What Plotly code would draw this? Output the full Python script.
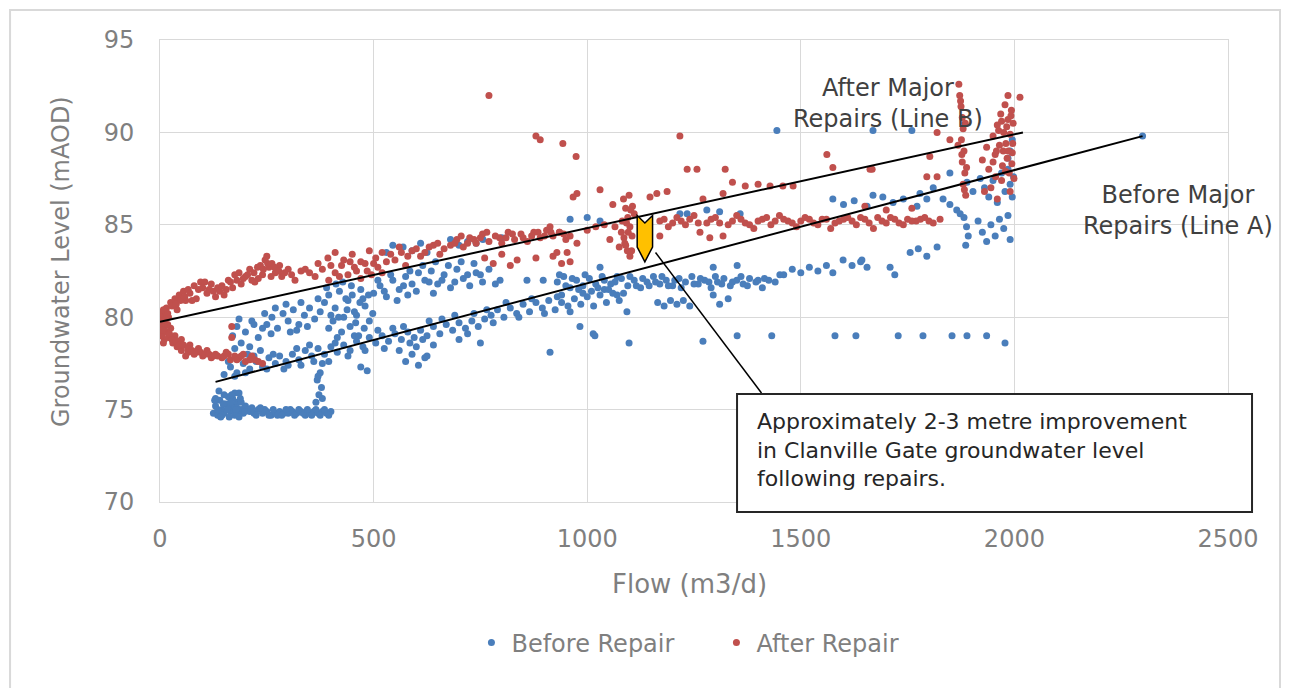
import plotly.graph_objects as go

# --- Before Repair (blue) ---
before_base_x = [125, 130, 135, 140, 145, 150, 155, 160, 165, 170, 175, 180, 185, 190, 195, 200,
                 130, 140, 150, 160, 170, 180, 190, 135, 150, 165, 180, 145, 175,
                 210, 220, 230, 240, 250, 260, 270, 280, 290, 300, 310, 320, 330, 340, 350, 360,
                 370, 380, 390, 400, 215, 245, 275, 305, 335, 365, 395,
                 365, 372, 378, 368, 375, 380, 370,
                 205, 225, 235, 255, 265, 285, 295, 315, 325, 345, 355, 375, 385,
                 128, 138, 148, 158, 168, 178, 188, 198, 142, 162, 185]
before_base_y = [74.8, 75.2, 74.7, 75.5, 75.0, 74.8, 75.3, 75.7, 74.9, 75.2, 74.7, 75.4, 75.9, 75.0, 74.8, 75.2,
                 75.6, 74.9, 75.8, 75.1, 75.6, 74.8, 75.4, 75.0, 75.3, 75.4, 75.1, 74.7, 75.9,
                 74.9, 74.8, 75.0, 74.8, 74.9, 74.7, 74.8, 74.9, 74.8, 74.8, 74.9, 74.8, 74.9, 74.7, 74.8, 74.9,
                 74.8, 74.9, 74.8, 74.9, 75.1, 75.0, 74.7, 75.0, 74.8, 75.0, 74.7,
                 75.4, 75.8, 76.2, 76.6, 77.0, 75.6, 76.8,
                 75.0, 74.7, 75.1, 74.7, 75.0, 74.7, 75.0, 74.7, 75.0, 75.0, 74.7, 74.7, 75.0,
                 75.5, 76.0, 75.3, 75.0, 75.8, 75.0, 75.6, 74.9, 74.6, 74.6, 74.6]

before_lower_x = [150, 165, 180, 195, 210, 225, 240, 255, 270,
                  280, 295, 310, 325, 340, 355, 370, 385, 400, 415, 290, 330, 360, 395,
                  430, 445, 460, 475, 490, 505, 520, 535, 550, 565, 580, 595, 470, 485, 600, 620, 560,
                  610, 625, 640, 655, 670, 685, 700, 715, 730, 745, 760, 640, 700, 750,
                  575, 590, 605, 625,
                  775, 790, 805, 820, 835, 850, 865, 880, 895, 910, 925, 940, 955, 970, 985,
                  1000, 1015, 1030, 1045, 1060, 1075,
                  1165, 1180, 1195, 1210, 1225, 1240, 1295, 1330, 1310,
                  913, 983, 1014, 1093,
                  160, 175, 200, 220, 250, 265, 300, 320, 350, 380, 410, 440, 455, 480, 510, 525,
                  545, 570, 585, 615, 630, 660, 690, 720, 735, 765, 780, 810, 840, 870, 900, 930,
                  960, 990, 1040, 1070]
before_lower_y = [76.9, 77.3, 77.0, 77.5, 77.2, 77.6, 77.3, 77.8, 77.5,
                  77.9, 77.6, 78.0, 77.7, 78.2, 77.9, 78.3, 78.0, 78.4, 78.1, 77.2, 77.4, 77.6, 77.6,
                  78.5, 78.2, 78.7, 78.4, 78.9, 78.6, 79.0, 78.7, 79.1, 78.8, 79.2, 78.9, 77.3, 77.1, 78.4, 77.8, 78.2,
                  79.3, 79.0, 79.5, 79.1, 79.6, 79.3, 79.7, 79.4, 79.8, 79.5, 79.9, 78.5, 78.8, 78.6,
                  77.6, 78.0, 77.4, 77.9,
                  80.1, 80.4, 80.0, 80.5, 80.2, 80.7, 80.3, 80.8, 80.5, 80.9, 80.4, 80.8, 80.6, 81.0, 80.7,
                  81.1, 80.6, 81.2, 80.8, 81.3, 80.9,
                  80.8, 80.6, 80.9, 80.7, 80.9, 80.6, 81.2, 81.0, 80.7,
                  78.1, 79.5, 79.1, 80.3,
                  77.6, 76.8, 77.0, 77.9, 77.2, 78.0, 77.4, 78.3, 78.5, 77.5, 78.6, 77.9, 79.0, 78.2, 79.3, 78.3,
                  79.4, 79.5, 78.6, 78.8, 79.8, 79.9, 80.1, 79.1, 80.2, 80.4, 79.7, 80.8, 80.0, 81.0, 80.2, 81.1,
                  80.3, 81.3, 81.5, 81.2]

before_upper_x = [170, 180, 190, 200, 210, 220, 230, 240, 175, 205, 235,
                  250, 262, 275, 288, 300, 312, 325, 338, 350, 362, 375, 260, 320,
                  385, 395, 405, 410, 420, 425, 430, 440, 445, 450, 455, 465, 470, 480, 490,
                  395, 415, 435, 460, 475,
                  500, 515, 530, 545, 560, 575, 590, 605,
                  620, 635, 650, 665, 680, 695, 710, 725, 740, 755, 580, 640,
                  569, 590, 610, 625, 680, 700, 720, 740, 756, 800, 530, 545,
                  185, 215, 245, 270, 295, 305, 330, 345, 370, 390, 400, 412, 418, 428, 438, 448,
                  458, 468, 478, 488, 498, 510, 525, 540, 555, 570, 585, 600, 615, 630, 645, 660,
                  675, 690, 705, 720, 735, 750, 770, 785]
before_upper_y = [79.0, 79.5, 78.6, 79.2, 78.4, 79.6, 78.9, 79.4, 78.3, 78.0, 78.2,
                  79.6, 80.0, 79.4, 80.2, 79.8, 80.4, 79.6, 80.1, 80.5, 79.9, 80.3, 79.1, 79.3,
                  80.8, 81.2, 79.8, 80.5, 81.4, 79.2, 80.0, 80.9, 79.5, 81.2, 80.3, 79.0, 81.5, 80.6, 79.8,
                  79.4, 78.9, 81.0, 80.1, 81.0,
                  81.3, 81.7, 81.1, 82.0, 81.5, 82.2, 81.8, 82.4,
                  82.0, 82.5, 81.8, 82.3, 81.6, 82.6, 82.1, 81.7, 82.4, 81.9, 81.2, 81.3,
                  83.8, 83.6, 84.0, 83.5, 84.2, 83.9, 84.1, 84.0, 84.2, 84.3, 83.5, 83.9,
                  79.9, 79.8, 80.2, 80.5, 80.7, 79.2, 80.8, 79.5, 81.0, 81.6, 80.1, 81.8, 80.0, 81.9, 80.4, 81.7,
                  79.7, 80.8, 79.4, 81.2, 80.2, 82.0, 81.4, 82.3, 80.9, 81.7, 82.5, 81.4, 82.8, 81.9, 83.0, 82.0,
                  82.8, 81.9, 83.0, 82.3, 82.9, 82.3, 82.6, 81.8]

before_mid_x = [796, 859, 897, 930, 945, 960, 975, 990, 1005, 1020, 1035, 1050, 1065, 1080, 1095,
                1110, 1125, 1140, 1155, 1170, 1185, 1200, 1215, 1230, 1245, 1260, 1275, 1290, 1305,
                1320, 1335, 1350, 1365, 1380, 1395, 1410, 1425, 1030, 940, 1010, 1085,
                1217, 1234, 1280, 1310, 1358, 1295, 1351, 1451, 960, 1000, 1030,
                1460, 1480, 1500, 1520, 1540, 1560, 1575,
                1599, 1620, 1640, 1655, 1709, 1720, 1643, 1756, 1775, 1795, 1819,
                935, 950, 965, 980, 995, 1025, 1040, 1055, 1070, 1100, 1115, 1130, 1145, 1160, 1175,
                1190, 1205, 1220, 1250, 1265, 1285, 1300, 1315, 1340, 1360, 1375, 1400, 1415, 1440]
before_mid_y = [82.0, 82.0, 82.0, 81.9, 82.2, 81.6, 82.0, 81.7, 82.1, 81.8, 82.2, 81.5, 81.9, 82.1, 81.7,
                82.0, 81.6, 81.9, 82.2, 81.8, 82.0, 81.7, 82.1, 81.9, 82.2, 81.8, 82.0, 81.6, 81.9,
                82.1, 81.7, 82.0, 81.8, 82.1, 81.9, 81.6, 82.0, 82.7, 81.2, 81.4, 81.3,
                85.6, 85.6, 85.8, 85.7, 85.6, 82.7, 82.8, 82.3, 85.3, 85.4, 85.2,
                82.3, 82.6, 82.4, 82.7, 82.5, 82.8, 82.4,
                83.1, 82.8, 83.0, 82.7, 82.7, 82.3, 83.1, 83.5, 83.7, 83.3, 83.8,
                82.3, 81.7, 82.1, 81.5, 82.3, 81.6, 82.0, 81.8, 82.2, 82.2, 81.7, 82.1, 81.7, 81.9, 82.2,
                81.7, 82.0, 81.6, 81.8, 82.1, 81.9, 82.2, 81.8, 81.9, 82.2, 81.7, 82.0, 82.1, 81.9]

before_right_x = [1575, 1600, 1625, 1655, 1669, 1692, 1716, 1740, 1772, 1779, 1795, 1810, 1833,
                  1849, 1849, 1865, 1873, 1889, 1903,
                  1882, 1888, 1892, 1886,
                  1915, 1925, 1935, 1945, 1955, 1965, 1975, 1985, 1990,
                  1920, 1930, 1940, 1950, 1960, 1970, 1978, 1985, 1990, 1995, 1990, 1995, 1985, 1998,
                  1444, 1669, 1760, 2300]
before_right_y = [86.4, 86.1, 86.3, 86.0, 86.6, 86.5, 86.2, 86.4, 86.0, 86.7, 86.4, 87.0, 86.4,
                  87.8, 86.1, 85.8, 85.6, 87.3, 86.8,
                  85.4, 84.9, 84.4, 83.9,
                  85.2, 84.6, 84.1, 85.0, 84.4, 85.3, 84.8, 85.5, 84.2,
                  87.5, 87.0, 86.5, 87.4, 86.2, 87.8, 86.8, 88.0, 87.2, 86.5, 89.0, 89.6, 88.6, 87.6,
                  90.1, 90.1, 90.1, 89.8]

before_row_x = [1018, 1098, 1271, 1351, 1432, 1580, 1629, 1728, 1786, 1854, 1889, 1935, 1978]
before_row_y = [79.0, 78.6, 78.7, 79.0, 79.0, 79.0, 79.0, 79.0, 79.0, 79.0, 79.0, 79.0, 78.6]

# --- After Repair (red) ---
after_left_x = [5, 15, 25, 35, 45, 55, 66, 80, 95, 105, 120, 135, 145, 160, 175, 185, 200, 210, 222,
                235, 246, 255, 262, 270, 285, 300, 316, 330, 340,
                20, 40, 60, 85, 110, 130, 150, 170, 190, 215, 240, 260, 280, 250, 230,
                0, 10, 5, 15,
                5, 12, 20, 30, 40, 50, 66, 80, 100, 120, 145, 165, 185, 200, 222, 240,
                10, 25, 35, 50, 70, 90, 110, 130, 155, 175, 195, 215, 0, 8, 60,
                168, 168,
                2, 8, 18, 28, 38, 48, 58, 70, 75, 90, 100, 115, 125, 140, 155, 165, 180, 195, 205,
                220, 228, 242, 252, 268, 278, 292, 308,
                3, 12, 18, 22, 28, 38, 45, 55, 65, 75, 85, 95, 105, 115, 125, 135, 150, 160, 180,
                190, 210, 230, 2, 6]
after_left_y = [80.2, 80.5, 80.8, 81.0, 81.2, 81.4, 81.5, 81.7, 81.9, 81.9, 81.8, 81.6, 81.7, 82.0, 82.3,
                82.4, 82.2, 82.6, 81.9, 82.8, 83.1, 82.7, 82.9, 82.4, 82.2, 82.6, 82.0, 82.5, 82.6,
                80.0, 80.4, 80.9, 81.0, 81.3, 81.1, 81.2, 81.6, 81.8, 82.0, 82.3, 82.2, 82.8, 83.3, 82.1,
                79.8, 79.5, 79.0, 79.2,
                79.7, 79.2, 78.9, 78.6, 78.4, 78.2, 78.1, 78.0, 77.9, 77.8, 77.8, 77.7, 77.8, 77.6, 77.7, 77.5,
                78.8, 79.4, 79.0, 78.8, 78.5, 78.3, 78.2, 78.0, 78.1, 77.9, 78.0, 77.9, 79.3, 78.6, 77.9,
                79.5, 78.9,
                80.0, 80.4, 80.2, 80.6, 80.7, 80.9, 81.1, 81.3, 80.9, 81.5, 81.6, 81.5, 81.4, 81.4, 81.5,
                81.9, 82.0, 82.1, 82.3, 82.4, 82.7, 82.6, 82.9, 82.7, 82.5, 82.4, 82.3,
                79.5, 79.9, 79.6, 79.1, 78.8, 78.7, 78.5, 78.5, 78.3, 78.2, 78.1, 78.1, 78.0, 78.0, 77.9,
                77.9, 77.9, 78.0, 77.7, 77.9, 77.7, 77.6, 79.0, 79.3]

after_mid_x = [363, 380, 395, 410, 425, 440, 455, 470, 485, 500, 520,
               393, 410, 430, 450, 470, 490, 505, 520,
               540, 560, 580, 600, 620, 640, 655, 575,
               680, 695, 710, 725, 740, 755, 770, 785, 800, 815, 830, 845, 860, 875, 890, 905, 920, 935, 950,
               760, 780, 800, 820, 836,
               880, 920, 940, 953, 976, 929, 960, 913, 935, 960,
               1085, 1090, 1095, 1100, 1105, 1088, 1094, 1100, 1106, 1092, 1080, 1098, 1110, 1075, 1053, 1170,
               1082, 1086, 1096, 1102, 1090, 1104,
               350, 370, 400, 420, 445, 460, 480, 495, 510, 530, 550, 565, 590, 610, 630, 650, 665,
               690, 705, 720, 735, 750, 765, 795, 810, 825, 850, 870, 885, 900, 915, 945, 1000, 1020,
               1040, 1065]
after_mid_y = [82.2, 82.6, 82.0, 82.4, 82.8, 82.3, 82.7, 82.1, 82.5, 82.9, 82.4,
               83.2, 83.5, 83.1, 83.4, 83.0, 83.6, 83.2, 83.5,
               83.4, 83.8, 83.3, 83.7, 83.5, 83.9, 83.4, 82.8,
               83.9, 84.2, 83.8, 84.3, 84.0, 84.5, 84.1, 84.4, 84.0, 84.6, 84.2, 84.5, 84.1, 84.6, 84.3, 84.7,
               84.4, 84.6, 84.2,
               83.2, 82.9, 83.4, 82.8, 83.1,
               83.2, 83.3, 82.9, 83.5, 84.0, 83.5, 83.0, 84.9, 84.6, 84.4,
               86.4, 85.9, 85.4, 84.9, 84.4, 84.0, 83.6, 83.3, 86.0, 85.1, 84.6, 86.6, 85.6, 83.8, 84.2, 84.4,
               85.2, 84.3, 84.6, 85.8, 83.9, 83.6,
               82.4, 82.9, 82.8, 82.2, 83.0, 82.5, 82.9, 82.3, 82.7, 83.0, 83.1, 83.5, 83.6, 83.3, 83.8, 84.0,
               83.7, 84.0, 84.4, 84.0, 84.2, 84.3, 84.6, 84.3, 84.3, 84.5, 84.3, 84.4, 84.6, 84.4, 84.6, 84.5,
               84.7, 84.9, 85.0, 84.9]

after_band_x = [1170, 1190, 1210, 1230, 1250, 1264, 1280, 1287, 1300, 1318, 1330, 1350, 1370, 1390,
                1410, 1430, 1450, 1470, 1490, 1510, 1530, 1550, 1570, 1590, 1610, 1630, 1650, 1670,
                1690, 1710, 1730, 1750, 1770, 1790, 1810, 1826, 1650, 1700, 1760,
                1180, 1200, 1220, 1240, 1260, 1290, 1310, 1340, 1360, 1380, 1400, 1420, 1440, 1460,
                1480, 1500, 1520, 1540, 1560, 1580, 1600, 1620, 1640, 1660, 1680, 1700, 1720, 1740,
                1760, 1780, 1800]
after_band_y = [85.2, 84.9, 85.4, 85.0, 85.5, 84.6, 85.1, 84.3, 85.4, 84.4, 85.0, 85.5, 85.1, 84.8,
                85.3, 85.0, 85.5, 85.2, 84.9, 85.4, 85.1, 85.3, 84.8, 85.2, 85.4, 85.0, 85.3, 84.8,
                85.2, 85.4, 85.1, 85.3, 85.2, 85.4, 85.1, 85.3, 86.0, 85.8, 85.9,
                85.3, 85.1, 85.2, 85.3, 85.1, 85.3, 85.1, 85.2, 85.3, 85.0, 85.2, 85.4, 85.2, 85.3,
                85.1, 85.2, 85.3, 85.0, 85.3, 85.1, 85.3, 85.2, 85.4, 85.1, 85.4, 85.1, 85.3, 85.0,
                85.2, 85.3, 85.2]

after_scatter_x = [770, 880, 890, 943, 974, 1030, 976, 967, 1060, 1147, 1163, 1187, 1217, 1234,
                   1257, 1271, 1318, 1323, 1340, 1370, 1400, 1428, 1458, 1482, 1561, 1575, 1667]
after_scatter_y = [92.0, 89.8, 89.6, 89.4, 88.7, 86.9, 86.7, 86.5, 86.1, 86.5, 86.7, 86.8, 89.8, 88.0,
                   88.0, 86.4, 86.7, 88.0, 87.3, 87.1, 87.2, 87.1, 87.1, 87.1, 88.8, 88.1, 88.0]

after_right_x = [1870, 1872, 1875, 1878, 1880, 1876, 1882, 1878, 1884, 1880, 1886, 1874, 1888, 1868,
                 1819, 1849, 1795, 1819, 1802, 1662,
                 1925, 1935, 1940, 1950, 1955, 1960, 1965, 1968, 1972, 1975, 1978, 1980, 1983, 1985,
                 1988, 1990, 1993, 1995, 1997, 1999, 1970, 1945, 1930, 1960, 1990, 2013, 1985,
                 1950, 1958, 1963, 1970, 1974, 1982, 1986, 1992, 1996, 1994, 1979, 1956, 1885, 1877, 1883]
after_right_y = [92.6, 92.0, 91.4, 90.8, 90.2, 89.6, 89.0, 88.4, 87.8, 87.2, 86.6, 91.7, 88.1, 89.3,
                 90.0, 89.6, 87.6, 87.6, 88.7, 88.0,
                 88.5, 89.2, 88.0, 89.8, 88.8, 90.4, 89.3, 91.0, 88.2, 90.0, 91.5, 89.4, 88.6, 90.7,
                 87.8, 89.9, 91.2, 88.9, 90.5, 87.5, 87.4, 87.0, 86.8, 86.4, 86.8, 91.9, 92.0,
                 88.4, 89.0, 90.1, 90.6, 89.0, 90.3, 89.0, 90.9, 89.4, 88.3, 87.9, 87.6, 90.5, 88.8, 86.9]

# trend lines drawn on the original
line_a_flow = [130, 2300]
line_a_level = [76.5, 89.8]
line_b_flow = [0, 2020]
line_b_level = [79.75, 90.0]

before_x = before_base_x + before_lower_x + before_upper_x + before_mid_x + before_right_x + before_row_x
before_y = before_base_y + before_lower_y + before_upper_y + before_mid_y + before_right_y + before_row_y
after_x = after_left_x + after_mid_x + after_band_x + after_scatter_x + after_right_x
after_y = after_left_y + after_mid_y + after_band_y + after_scatter_y + after_right_y

BLUE = "#4A7EBB"
RED = "#C0504D"
FONT = "DejaVu Sans"
GREY = "#7F7F7F"
GRID = "#D9D9D9"

fig = go.Figure()
fig.add_trace(go.Scatter(x=before_x, y=before_y, mode="markers", name="Before Repair",
                         marker=dict(color=BLUE, size=7)))
fig.add_trace(go.Scatter(x=after_x, y=after_y, mode="markers", name="After Repair",
                         marker=dict(color=RED, size=7)))
fig.add_trace(go.Scatter(x=line_a_flow, y=line_a_level, mode="lines", showlegend=False,
                         line=dict(color="black", width=2)))
fig.add_trace(go.Scatter(x=line_b_flow, y=line_b_level, mode="lines", showlegend=False,
                         line=dict(color="black", width=2)))

# yellow block arrow and callout
arrow_path = "M 1117 85.5 L 1135 85.1 L 1153 85.5 L 1153 83.8 L 1135 83.0 L 1117 83.8 Z"
fig.add_shape(type="path", path=arrow_path, xref="x", yref="y",
              fillcolor="#FFC000", line=dict(color="black", width=1.5))
fig.add_shape(type="line", xref="x", yref="y", x0=1160, y0=83.5, x1=1408, y1=75.9,
              line=dict(color="black", width=1.5))
fig.add_shape(type="rect", xref="paper", yref="paper", x0=0.5403, x1=1.0225, y0=-0.0216, y1=0.2338,
              fillcolor="white", line=dict(color="#262626", width=2), layer="above")
# outer chart border
fig.add_shape(type="rect", xref="paper", yref="paper", x0=-0.1404, x1=1.0487, y0=-0.4286, y1=1.0649,
              line=dict(color=GRID, width=2), layer="below")

fig.add_annotation(xref="paper", yref="paper", x=0.557, y=0.1126, xanchor="left", yanchor="middle",
                   align="left", showarrow=False,
                   text="Approximately 2-3 metre improvement<br>in Clanville Gate groundwater level<br>following repairs.",
                   font=dict(family=FONT, size=22, color="#262626"))
fig.add_annotation(xref="paper", yref="paper", x=0.6816, y=0.8636, xanchor="center", yanchor="middle",
                   showarrow=False, text="After Major<br>Repairs (Line B)",
                   font=dict(family=FONT, size=24, color="#404040"))
fig.add_annotation(xref="paper", yref="paper", x=0.953, y=0.630, xanchor="center", yanchor="middle",
                   showarrow=False, text="Before Major<br>Repairs (Line A)",
                   font=dict(family=FONT, size=24, color="#404040"))
fig.add_annotation(xref="paper", yref="paper", x=-0.0927, y=0.5216, xanchor="center", yanchor="middle",
                   showarrow=False, textangle=-90, text="Groundwater Level (mAOD)",
                   font=dict(family=FONT, size=24, color=GREY))
fig.add_annotation(xref="paper", yref="paper", x=0.496, y=-0.1775, xanchor="center", yanchor="middle",
                   showarrow=False, text="Flow (m3/d)", font=dict(family=FONT, size=26, color=GREY))

fig.update_xaxes(range=[0, 2500], dtick=500, showgrid=True, gridcolor=GRID, gridwidth=1,
                 showline=True, linecolor=GRID, mirror=True, zeroline=False, ticks="",
                 ticklabelstandoff=15, tickfont=dict(family=FONT, size=24, color=GREY), automargin=False)
fig.update_yaxes(range=[70, 95], dtick=5, showgrid=True, gridcolor=GRID, gridwidth=1,
                 showline=True, linecolor=GRID, mirror=True, zeroline=False, ticks="",
                 ticklabelstandoff=20, tickfont=dict(family=FONT, size=24, color=GREY), automargin=False)

fig.update_layout(
    width=1290, height=688,
    margin=dict(l=152, r=70, t=32, b=194),
    paper_bgcolor="white", plot_bgcolor="white",
    showlegend=True,
    legend=dict(orientation="h", x=0.521, xanchor="center", y=-0.305, yanchor="middle",
                font=dict(family=FONT, size=24, color=GREY), entrywidth=200, entrywidthmode="pixels"),
)

fig.write_html("out.html")
